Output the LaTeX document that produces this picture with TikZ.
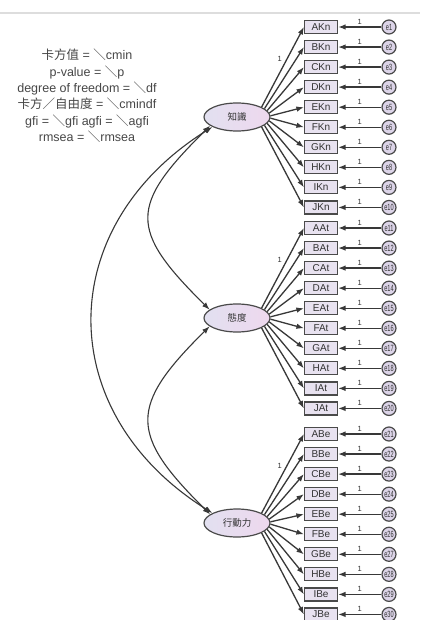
\documentclass[tikz,border=0pt]{standalone}
\usepackage{fontspec}
\setmainfont{Liberation Sans}
\newfontfamily\cjk{Noto Sans CJK TC}
\usetikzlibrary{arrows.meta,calc,shapes.geometric}

\definecolor{linegray}{HTML}{383838}
\definecolor{boxedge}{HTML}{4A4A4A}
\definecolor{boxfill}{HTML}{E8E2F0}
\definecolor{latL}{HTML}{E2E0F0}
\definecolor{latR}{HTML}{EED8EE}
\definecolor{errfill}{HTML}{DCD4E8}
\definecolor{txt}{HTML}{333333}
\definecolor{rule}{HTML}{DDDDDD}

\begin{document}
\begin{tikzpicture}[x=1pt,y=-1pt,
  arr/.style={-{Latex[length=7.5pt,width=5.5pt]}, draw=linegray, line width=1.3pt},
  cov/.style={{Latex[length=7.5pt,width=5.5pt]}-{Latex[length=7.5pt,width=5.5pt]},
    draw=linegray, line width=1.1pt},
  obs/.style={draw=boxedge, line width=1.2pt, fill=boxfill, minimum width=33pt,
    minimum height=13pt, inner sep=0pt, font=\fontsize{10}{10}\selectfont, text=txt},
  lat/.style={ellipse, draw=boxedge, line width=1.2pt, left color=latL, right color=latR,
    minimum width=66pt, minimum height=28pt, inner sep=0pt,
    font=\cjk\fontsize{9.5}{9.5}\selectfont, text=txt},
  err/.style={circle, draw=boxedge, line width=1.2pt, fill=errfill, minimum size=14pt,
    inner sep=0pt, font=\fontsize{9}{9}\selectfont, text=txt},
  one/.style={font=\fontsize{7.5}{7.5}\selectfont, text=txt, inner sep=1pt}
]
\useasboundingbox (0,0) rectangle (420,620);
\fill[white] (0,0) rectangle (420,620);
\draw[rule, line width=1.5pt] (0,13) -- (420,13);

% fit statistics placeholders
\node[align=center, text=txt!90, font=\fontsize{12.5}{16.4}\selectfont, inner sep=0pt]
  (stats) at (87,96)
  {{\cjk 卡方值} = {\cjk ＼}cmin\\
   p-value = {\cjk ＼}p\\
   degree of freedom = {\cjk ＼}df\\
   {\cjk 卡方／自由度} = {\cjk ＼}cmindf\\
   gfi = {\cjk ＼}gfi agfi = {\cjk ＼}agfi\\
   rmsea = {\cjk ＼}rmsea};

% latent factors
\node[lat] (z1) at (237,117) {知識};
\node[lat] (z2) at (237,318) {態度};
\node[lat] (z3) at (237,523) {行動力};

% indicators, error terms and loadings
\foreach \grp/\top/\suf in {1/27/Kn,2/228/At,3/434/Be}{
  \foreach \L [count=\i from 0] in {A,B,C,D,E,F,G,H,I,J}{
    \pgfmathsetmacro\yy{\top+20.05*\i}
    \pgfmathtruncatemacro\en{(\grp-1)*10+\i+1}
    \pgfmathtruncatemacro\ang{22-44*\i/9}
    \node[obs] (\L\suf) at (321,\yy) {\L\suf};
    \node[err] (e\en) at (389,\yy) {\scalebox{0.62}[1]{e\en}};
    \draw[arr] (e\en) -- node[one,above=1pt]{1} (\L\suf);
    \draw[arr] (z\grp.\ang) -- (\L\suf.west);
  }
}

% fixed loadings
\path (z1.22) -- (AKn.west) node[one,pos=0.6,left=4pt]{1};
\path (z2.22) -- (AAt.west) node[one,pos=0.6,left=4pt]{1};
\path (z3.22) -- (ABe.west) node[one,pos=0.6,left=4pt]{1};

% factor covariances
\draw[cov] (z1.198) .. controls +(-81,80) and +(-81,-80) .. (z2.163);
\draw[cov] (z2.197) .. controls +(-81,80) and +(-81,-80) .. (z3.162);
\draw[cov] (z1.202) .. controls +(-160,100) and +(-160,-100) .. (z3.158);
\end{tikzpicture}
\end{document}
